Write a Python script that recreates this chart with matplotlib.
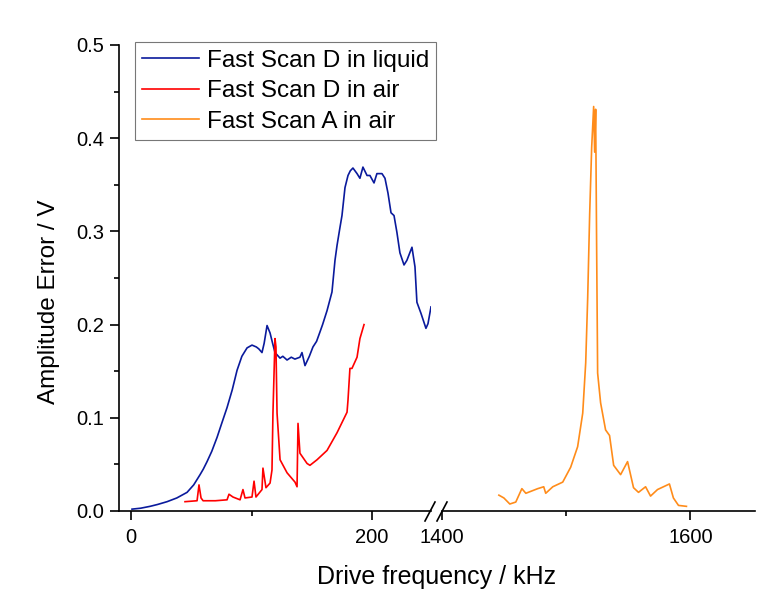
import matplotlib
matplotlib.use('Agg')
import matplotlib.pyplot as plt
from matplotlib.lines import Line2D
from matplotlib.ticker import MultipleLocator

plt.rcParams['font.family'] = ['Liberation Sans', 'DejaVu Sans']

# Fast Scan D in liquid (kHz, V)
liquid_f = [0.8, 8, 15.8, 22, 29.9, 38, 46.5, 52, 57.3, 60, 63.1, 67, 71.4, 75, 79.7, 84,
            88.0, 92, 96.3, 100.4, 104, 106, 108.7, 110.5, 112.9, 115.4, 117.5, 119.5, 123.7,
            126, 129.5, 133, 136, 140.2, 141.9, 144.4, 148, 151.0, 154, 156.8, 159, 162.7,
            166.8, 169.3, 171, 173.4, 175.1, 177.6, 180.1, 182, 184.2, 187.6, 190.0, 192.5,
            195.9, 198.3, 201.7, 204.1, 208.3, 210.8, 213.3, 215.8, 218.3, 220.7, 223.2,
            226.6, 229.0, 233.2, 235.7, 237.3, 240.7, 242.5, 244.8, 246.5, 249.0]
liquid_v = [0.002, 0.003, 0.005, 0.007, 0.010, 0.014, 0.020, 0.028, 0.039, 0.045, 0.053, 0.064,
            0.079, 0.093, 0.111, 0.130, 0.151, 0.166, 0.175, 0.178, 0.176, 0.174, 0.170, 0.180,
            0.199, 0.191, 0.180, 0.170, 0.164, 0.166, 0.162, 0.165, 0.163, 0.165, 0.170, 0.156,
            0.166, 0.176, 0.182, 0.192, 0.200, 0.215, 0.235, 0.269, 0.285, 0.304, 0.317, 0.347,
            0.360, 0.365, 0.368, 0.362, 0.357, 0.369, 0.360, 0.360, 0.352, 0.362, 0.362, 0.357,
            0.341, 0.320, 0.317, 0.299, 0.277, 0.264, 0.269, 0.283, 0.262, 0.224, 0.212, 0.205,
            0.196, 0.201, 0.219]

# Fast Scan D in air
air_d_f = [44.8, 54.8, 56.4, 58.1, 59.8, 70, 79.7, 81.3, 84.6, 90.5, 92.9, 94.6, 100.4, 102.1,
           103.7, 108.7, 109.5, 112.0, 115.4, 117.0, 117.8, 119.5, 120.3, 121.2, 123.7, 129.5,
           136.1, 137.8, 138.6, 140.2, 146.1, 148.5, 154.4, 162.7, 171.0, 179.3, 180.1, 181.7,
           183.4, 187.6, 190.0, 193.4]
air_d_v = [0.010, 0.011, 0.028, 0.014, 0.011, 0.011, 0.012, 0.018, 0.015, 0.012, 0.023, 0.014,
           0.015, 0.032, 0.015, 0.023, 0.046, 0.025, 0.030, 0.044, 0.105, 0.185, 0.176, 0.105,
           0.055, 0.041, 0.031, 0.026, 0.094, 0.062, 0.051, 0.049, 0.055, 0.065, 0.084, 0.106,
           0.119, 0.153, 0.153, 0.165, 0.185, 0.200]

# Fast Scan A in air
air_a_f = [1445.8, 1449.8, 1454.6, 1459.4, 1464.3, 1467.5, 1477.1, 1481.9, 1483.5, 1489.2,
           1497.2, 1503.6, 1509.2, 1513.3, 1515.7, 1517.3, 1518.9, 1520.5, 1522.1, 1522.9,
           1523.7, 1524.5, 1525.3, 1527.7, 1531.7, 1534.9, 1538.2, 1543.8, 1549.4, 1554.2,
           1558.2, 1563.9, 1567.9, 1573.5, 1583.1, 1586.3, 1590.4, 1596.8]
air_a_v = [0.017, 0.014, 0.0075, 0.0096, 0.024, 0.019, 0.024, 0.026, 0.019, 0.026, 0.031,
           0.047, 0.069, 0.105, 0.159, 0.229, 0.319, 0.390, 0.434, 0.385, 0.431, 0.283, 0.148,
           0.116, 0.087, 0.081, 0.049, 0.039, 0.053, 0.025, 0.020, 0.026, 0.016, 0.023, 0.029,
           0.014, 0.006, 0.005]

W, H = 771, 597
fig = plt.figure(figsize=(W / 100, H / 100), dpi=100)
fig.patch.set_facecolor('white')

y0, y1 = 511, 45
axl = fig.add_axes([119 / W, (H - y0) / H, (431 - 119) / W, (y0 - y1) / H])
axr = fig.add_axes([442 / W, (H - y0) / H, (755 - 442) / W, (y0 - y1) / H])

lw = 1.2
axl.plot(liquid_f, liquid_v, color='#0a1a9c', lw=lw, label='Fast Scan D in liquid')
axl.plot(air_d_f, air_d_v, color='#ff0000', lw=lw, label='Fast Scan D in air')
axr.plot(air_a_f, air_a_v, color='#ff8c1a', lw=lw)
# proxy for the legend entry of the right panel
axl.plot([], [], color='#ff8c1a', lw=lw, label='Fast Scan A in air')

axl.set_xlim(-10, 249)
axr.set_xlim(1400, 1652)
for ax in (axl, axr):
    ax.set_ylim(0, 0.5)
    ax.patch.set_visible(False)
    ax.spines['top'].set_visible(False)
    ax.spines['right'].set_visible(False)
    ax.spines['bottom'].set_linewidth(1.2)
    ax.tick_params(axis='both', which='major', direction='out', length=6.5, width=1.2,
                   labelsize=14.5, pad=4)
    ax.tick_params(axis='both', which='minor', direction='out', length=3.5, width=1.2)
    ax.tick_params(axis='x', which='major', pad=6)

axl.spines['left'].set_linewidth(1.2)
axl.xaxis.set_major_locator(MultipleLocator(200))
axl.xaxis.set_minor_locator(MultipleLocator(100))
axl.yaxis.set_major_locator(MultipleLocator(0.1))
axl.yaxis.set_minor_locator(MultipleLocator(0.05))
axl.yaxis.set_major_formatter(plt.FormatStrFormatter('%.1f'))

axr.spines['left'].set_visible(False)
axr.yaxis.set_visible(False)
axr.xaxis.set_major_locator(MultipleLocator(200))
axr.xaxis.set_minor_locator(MultipleLocator(100))

# axis break marks
for (xa, ya, xb, yb) in [(425, 521, 435, 502), (437, 521, 447, 502)]:
    fig.add_artist(Line2D([xa / W, xb / W], [1 - ya / H, 1 - yb / H],
                          color='black', lw=1.2, transform=fig.transFigure))

leg = axl.legend(loc='upper left', bbox_to_anchor=(0.051, 1.006), borderaxespad=0,
                 fontsize=17.5, frameon=True, fancybox=False, handlelength=2.35,
                 handletextpad=0.3, labelspacing=0.35, borderpad=0.3)
leg.get_frame().set_edgecolor('#555555')
leg.get_frame().set_linewidth(0.8)

fig.text(437 / W, 1 - 584 / H, 'Drive frequency / kHz', ha='center', va='baseline', fontsize=18)
fig.text(49 / W, 1 - 302 / H, 'Amplitude Error / V', ha='center', va='center',
         rotation=90, fontsize=17.5)

fig.savefig('out.png', dpi=100)
